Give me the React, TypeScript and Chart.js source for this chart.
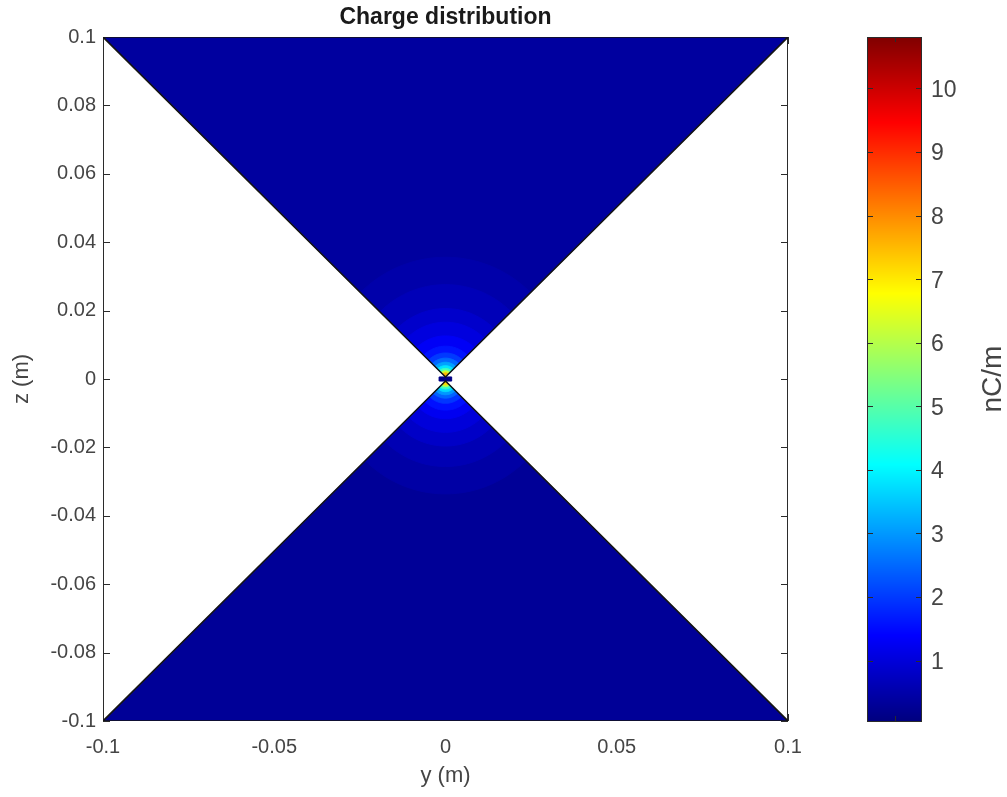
import React, { useEffect, useRef } from 'react';
import { Chart, registerables } from 'chart.js';

Chart.register(...registerables);

// ---- axes / ticks ----
const xTicks = [-0.1, -0.05, 0, 0.05, 0.1];
const yTicks = [-0.1, -0.08, -0.06, -0.04, -0.02, 0, 0.02, 0.04, 0.06, 0.08, 0.1];
const cbTicks = [1, 2, 3, 4, 5, 6, 7, 8, 9, 10];
const cbMin = 0.05;
const cbMax = 10.81;

// ---- antenna geometry (y, z in m) ----
const upperArm: [number, number][] = [[-0.1, 0.1], [0.1, 0.1], [0, 0.0006]];
const lowerArm: [number, number][] = [[-0.1, -0.1], [0.1, -0.1], [0, -0.0006]];
const feedGap: [number, number][] = [[-0.0018, -0.0006], [0.0018, -0.0006], [0.0018, 0.0006], [-0.0018, 0.0006]];
const feedValue = 0.12;

// ---- charge density (nC/m): base value and bands by distance from the feed ----
const upperBase = 0.38;
const upperRadii = [0.035, 0.027, 0.02, 0.016, 0.012, 0.009, 0.007, 0.0055, 0.0043, 0.0033, 0.0025, 0.0018, 0.0012];
const upperValues = [0.5, 0.65, 0.85, 1.05, 1.3, 1.6, 2.0, 2.5, 3.1, 3.8, 4.8, 6.2, 7.5];
const lowerBase = 0.3;
const lowerRadii = [0.033, 0.025, 0.019, 0.015, 0.011, 0.0085, 0.0065, 0.005, 0.004, 0.0031, 0.0023, 0.0016, 0.0011];
const lowerValues = [0.45, 0.6, 0.8, 1.0, 1.25, 1.55, 1.95, 2.45, 3.0, 3.7, 4.7, 6.0, 7.2];

const FONT = "'Liberation Sans', Arial, Helvetica, sans-serif";
const TXT = '#454545';
const AXC = '#2b2b2b';

function jet(f: number): string {
  const c = (x: number) => Math.max(0, Math.min(1, x));
  const r = c(1.5 - Math.abs(4 * f - 3));
  const g = c(1.5 - Math.abs(4 * f - 2));
  const b = c(1.5 - Math.abs(4 * f - 1));
  return `rgb(${Math.round(r * 255)},${Math.round(g * 255)},${Math.round(b * 255)})`;
}
const colorOf = (v: number) => jet((v - cbMin) / (cbMax - cbMin));

const closed = (arr: [number, number][]) => [...arr, arr[0]].map(([x, y]) => ({ x, y }));

function sector(apexZ: number, r: number, dir: number) {
  const pts: { x: number; y: number }[] = [{ x: 0, y: apexZ }];
  const n = 30;
  for (let i = 0; i <= n; i++) {
    const t = Math.PI / 4 + (Math.PI / 2) * (i / n);
    pts.push({ x: r * Math.cos(t), y: apexZ + dir * r * Math.sin(t) });
  }
  pts.push({ x: 0, y: apexZ });
  return pts;
}

const fmt = (v: number) => {
  const r = Math.round(v * 1000) / 1000;
  return r === 0 ? '0' : String(r);
};

function shapeDs(data: any[], value: number, order: number) {
  const col = colorOf(value);
  return {
    data,
    showLine: true,
    fill: 'shape',
    backgroundColor: col,
    borderColor: col,
    borderWidth: 1,
    pointRadius: 0,
    tension: 0,
    order,
  };
}

function buildDatasets() {
  const ds: any[] = [];
  ds.push(shapeDs(closed(upperArm), upperBase, 200));
  ds.push(shapeDs(closed(lowerArm), lowerBase, 200));
  upperRadii.forEach((r, i) => ds.push(shapeDs(sector(upperArm[2][1], r, 1), upperValues[i], 150 - i)));
  lowerRadii.forEach((r, i) => ds.push(shapeDs(sector(lowerArm[2][1], r, -1), lowerValues[i], 150 - i)));
  ds.push(shapeDs(closed(feedGap), feedValue, 10));
  [upperArm, lowerArm].forEach((arm) =>
    ds.push({
      data: closed(arm),
      showLine: true,
      fill: false,
      borderColor: '#151515',
      borderWidth: 1.6,
      pointRadius: 0,
      tension: 0,
      order: 1,
    })
  );
  return ds;
}

const decor = {
  id: 'decor',
  beforeDatasetsDraw(chart: any) {
    const { ctx, chartArea: a, scales } = chart;
    ctx.save();
    ctx.strokeStyle = AXC;
    ctx.lineWidth = 1;
    ctx.strokeRect(a.left + 0.5, a.top + 0.5, a.right - a.left - 1, a.bottom - a.top - 1);
    const tl = 7;
    ctx.beginPath();
    yTicks.forEach((v) => {
      const p = Math.round(scales.y.getPixelForValue(v)) + 0.5;
      ctx.moveTo(a.left, p); ctx.lineTo(a.left + tl, p);
      ctx.moveTo(a.right, p); ctx.lineTo(a.right - tl, p);
    });
    xTicks.forEach((v) => {
      const p = Math.round(scales.x.getPixelForValue(v)) + 0.5;
      ctx.moveTo(p, a.bottom); ctx.lineTo(p, a.bottom - tl);
      ctx.moveTo(p, a.top); ctx.lineTo(p, a.top + tl);
    });
    ctx.stroke();
    ctx.restore();
  },
  afterDraw(chart: any) {
    const { ctx, scales } = chart;
    const cb = scales.cb;
    const x0 = 867, x1 = 922;
    const yTop = Math.round(cb.getPixelForValue(cbMax));
    const yBot = Math.round(cb.getPixelForValue(cbMin));
    ctx.save();
    for (let py = yTop; py < yBot; py++) {
      const v = cb.getValueForPixel(py + 0.5);
      ctx.fillStyle = colorOf(v);
      ctx.fillRect(x0, py, x1 - x0, 1);
    }
    ctx.strokeStyle = AXC;
    ctx.lineWidth = 1;
    ctx.strokeRect(x0 + 0.5, yTop + 0.5, x1 - x0 - 1, yBot - yTop);
    ctx.beginPath();
    cbTicks.forEach((t) => {
      const p = Math.round(cb.getPixelForValue(t)) + 0.5;
      ctx.moveTo(x0, p); ctx.lineTo(x0 + 6, p);
      ctx.moveTo(x1, p); ctx.lineTo(x1 - 6, p);
    });
    const xm = Math.round((x0 + x1) / 2) + 0.5;
    ctx.moveTo(xm, yTop); ctx.lineTo(xm, yTop + 5);
    ctx.moveTo(xm, yBot); ctx.lineTo(xm, yBot - 5);
    ctx.stroke();
    ctx.fillStyle = TXT;
    ctx.font = `23px ${FONT}`;
    ctx.textAlign = 'left';
    ctx.textBaseline = 'middle';
    cbTicks.forEach((t) => {
      ctx.fillText(String(t), 931, cb.getPixelForValue(t) + 2);
    });
    ctx.translate(993, (yTop + yBot) / 2);
    ctx.rotate(-Math.PI / 2);
    ctx.textAlign = 'center';
    ctx.font = `28px ${FONT}`;
    ctx.fillText('nC/m', 0, 0);
    ctx.restore();
  },
};

export default function App() {
  const ref = useRef<HTMLCanvasElement | null>(null);
  useEffect(() => {
    if (!ref.current) return;
    const chart = new Chart(ref.current, {
      type: 'scatter',
      data: { datasets: buildDatasets() },
      options: {
        animation: false,
        responsive: false,
        devicePixelRatio: 1,
        events: [],
        layout: { padding: { left: 0, right: 219, top: 0, bottom: 0 } },
        plugins: {
          legend: { display: false },
          tooltip: { enabled: false },
          title: {
            display: true,
            text: 'Charge distribution',
            fullSize: false,
            color: '#1a1a1a',
            font: { family: FONT, size: 23, weight: 'bold' },
            padding: { top: 4, bottom: 5.4 },
          },
        },
        scales: {
          x: {
            type: 'linear',
            min: -0.1,
            max: 0.1,
            afterBuildTicks: (s: any) => { s.ticks = xTicks.map((v) => ({ value: v })); },
            afterFit: (s: any) => { s.height = 76; },
            ticks: {
              callback: (v: any) => fmt(Number(v)),
              color: TXT,
              font: { family: FONT, size: 20 },
              padding: 14,
              maxRotation: 0,
              autoSkip: false,
            },
            grid: { display: false, drawTicks: false },
            border: { display: false },
            title: {
              display: true,
              text: 'y (m)',
              color: TXT,
              font: { family: FONT, size: 22 },
              padding: { top: 0, bottom: 8 },
            },
          },
          y: {
            type: 'linear',
            min: -0.1,
            max: 0.1,
            afterBuildTicks: (s: any) => { s.ticks = yTicks.map((v) => ({ value: v })); },
            afterFit: (s: any) => { s.width = 103; },
            ticks: {
              callback: (v: any) => fmt(Number(v)),
              color: TXT,
              font: { family: FONT, size: 20 },
              padding: 7,
              autoSkip: false,
            },
            grid: { display: false, drawTicks: false },
            border: { display: false },
            title: {
              display: true,
              text: 'z (m)',
              color: TXT,
              font: { family: FONT, size: 22 },
              padding: { top: 9, bottom: 0 },
            },
          },
          cb: {
            type: 'linear',
            position: 'right',
            display: false,
            min: cbMin,
            max: cbMax,
          },
        },
      } as any,
      plugins: [decor],
    });
    return () => chart.destroy();
  }, []);
  return (
    <div style={{ position: 'fixed', left: 0, top: 0, width: 1007, height: 797, background: '#fff' }}>
      <canvas ref={ref} width={1007} height={797} style={{ display: 'block' }} />
    </div>
  );
}
